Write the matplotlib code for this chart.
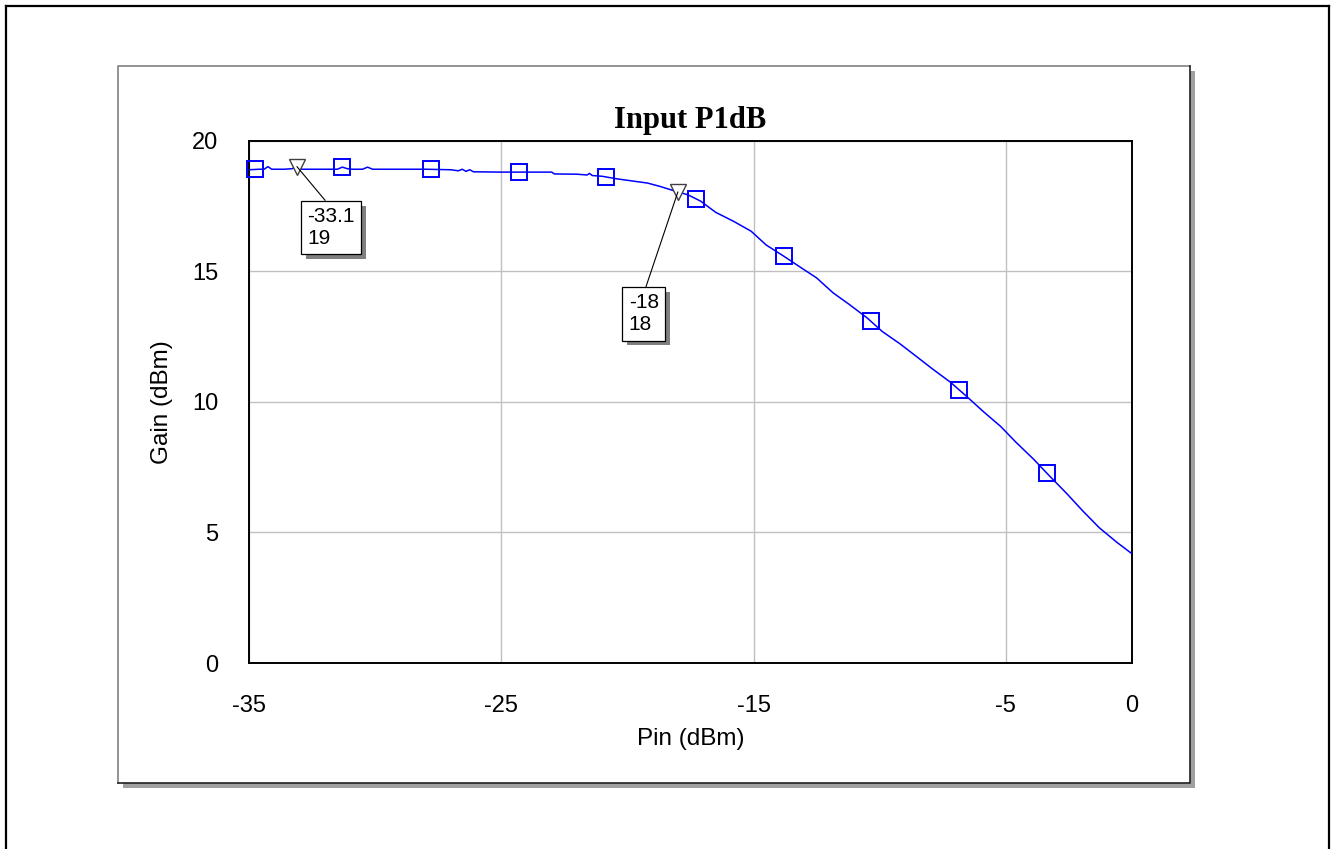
import numpy as np
import matplotlib
matplotlib.use("Agg")
import matplotlib.pyplot as plt
from matplotlib.patches import Rectangle
from matplotlib.lines import Line2D
import matplotlib.patheffects as pe

plt.rcParams["axes.unicode_minus"] = False

# curve: Pin (dBm) vs Gain (dBm)
pin = [-35.0, -34.6, -34.4, -34.25, -34.1, -33.6, -33.3, -33.1, -32.9, -32.5,
       -31.5, -31.3, -31.1, -30.9, -30.5, -30.3, -30.1, -29.5, -28.0, -27.0,
       -26.7, -26.55, -26.4, -26.25, -26.1, -25.9, -25.0, -24.0, -23.0, -22.9,
       -22.0, -21.6, -21.5, -21.4, -21.0, -20.4, -19.8, -19.2, -18.7, -18.2,
       -17.6, -17.1, -16.5, -15.8, -15.1, -14.5, -13.8, -13.1, -12.5, -11.85,
       -11.2, -10.5, -9.9, -9.2, -8.5, -7.9, -7.2, -6.55, -5.9, -5.2,
       -4.6, -3.9, -3.25, -2.6, -1.95, -1.3, -0.6, 0.0]
gain = [18.88, 18.9, 18.9, 19.0, 18.9, 18.9, 18.92, 19.0, 18.9, 18.9,
        18.9, 18.98, 18.92, 18.9, 18.9, 18.98, 18.9, 18.9, 18.9, 18.88,
        18.84, 18.9, 18.82, 18.88, 18.8, 18.8, 18.79, 18.79, 18.79, 18.72,
        18.71, 18.68, 18.74, 18.66, 18.63, 18.53, 18.45, 18.37, 18.24, 18.09,
        17.92, 17.68, 17.25, 16.91, 16.53, 16.0, 15.57, 15.12, 14.74, 14.17,
        13.72, 13.21, 12.69, 12.22, 11.7, 11.25, 10.75, 10.2, 9.63, 9.05,
        8.45, 7.8, 7.14, 6.5, 5.82, 5.18, 4.62, 4.18]

# square markers along the trace
marker_pin = [-34.75, -31.3, -27.8, -24.3, -20.85, -17.3, -13.8, -10.35, -6.85, -3.37]

# marker readouts (triangles)
mk_pin = [-33.1, -18.0]
mk_gain = [19, 18]
mk_text_pos = [(-32.7, 17.45), (-19.95, 14.15)]

xticks = [-35, -25, -15, -5, 0]
yticks = [0, 5, 10, 15, 20]

W, H = 1332, 849
fig = plt.figure(figsize=(W / 100, H / 100), dpi=100)

def fx(px):
    return px / W

def fy(py):
    return 1 - py / H

# outer frame
for xs, ys in [((6, 6), (6, 860)), ((6, 1329), (6, 6)), ((1329, 1329), (6, 860))]:
    fig.add_artist(Line2D([fx(v) for v in xs], [fy(v) for v in ys], color="black", lw=1.6,
                          transform=fig.transFigure, zorder=-5))

# panel with drop shadow
fig.add_artist(Rectangle((fx(123), fy(788)), fx(1195) - fx(123), fy(71) - fy(788),
                         transform=fig.transFigure, facecolor="#a0a0a0", edgecolor="none", zorder=-4))
fig.add_artist(Rectangle((fx(118), fy(783)), fx(1190) - fx(118), fy(66) - fy(783),
                         transform=fig.transFigure, facecolor="white", edgecolor="none", zorder=-3))
fig.add_artist(Line2D([fx(118), fx(118), fx(1190)], [fy(783), fy(66), fy(66)], color="#808080",
                      lw=1.2, transform=fig.transFigure, zorder=-2))
fig.add_artist(Line2D([fx(118), fx(1190), fx(1190)], [fy(783), fy(783), fy(66)], color="#202020",
                      lw=1.2, transform=fig.transFigure, zorder=-2))

ax = fig.add_axes([fx(249), fy(663), fx(1132) - fx(249), fy(140.5) - fy(663)])
ax.set_xlim(-35, 0)
ax.set_ylim(0, 20)
ax.set_xticks(xticks)
ax.set_yticks(yticks)
ax.tick_params(length=0, labelsize=17)
ax.tick_params(axis="x", pad=23)
ax.tick_params(axis="y", pad=22)
for lab in ax.get_xticklabels() + ax.get_yticklabels():
    lab.set_family("Liberation Sans")
ax.grid(True, color="#c0c0c0", lw=1.0)
for sp in ax.spines.values():
    sp.set_linewidth(1.4)
    sp.set_color("black")

ax.plot(pin, gain, color="#0000ff", lw=1.1, zorder=3)
marker_gain = np.interp(marker_pin, pin, gain)
ax.plot(marker_pin, marker_gain, ls="none", marker="s", ms=11, mfc="none", mec="#0000ff",
        mew=1.4, zorder=4, clip_on=False)
mk_y = np.interp(mk_pin, pin, gain)
ax.plot(mk_pin, mk_y, ls="none", marker="v", ms=11, mfc="white", mec="#404040", mew=1.0, zorder=5)

for x0, y0, lbl, (tx, ty) in zip(mk_pin, mk_y, zip(mk_pin, mk_gain), mk_text_pos):
    t = ax.annotate("%g\n%g" % lbl, xy=(x0, y0), xytext=(tx, ty), ha="left", va="top",
                    fontsize=15, family="Liberation Sans", linespacing=1.2,
                    bbox=dict(boxstyle="square,pad=0.3", fc="white", ec="black", lw=0.9),
                    arrowprops=dict(arrowstyle="-", color="black", lw=0.8, shrinkA=0, shrinkB=0,
                                    relpos=(0.5, 1.0)),
                    zorder=6)
    t.get_bbox_patch().set_path_effects([pe.SimplePatchShadow(offset=(3.5, -3.5), shadow_rgbFace="#808080", alpha=1.0),
                                         pe.Normal()])

ax.set_title("Input P1dB", family="Liberation Serif", fontweight="bold", fontsize=22, pad=9)
ax.set_xlabel("Pin (dBm)", family="Liberation Sans", fontsize=17.5, labelpad=8)
ax.set_ylabel("Gain (dBm)", family="Liberation Sans", fontsize=17.5, labelpad=14)

fig.savefig("out.png", dpi=100)
